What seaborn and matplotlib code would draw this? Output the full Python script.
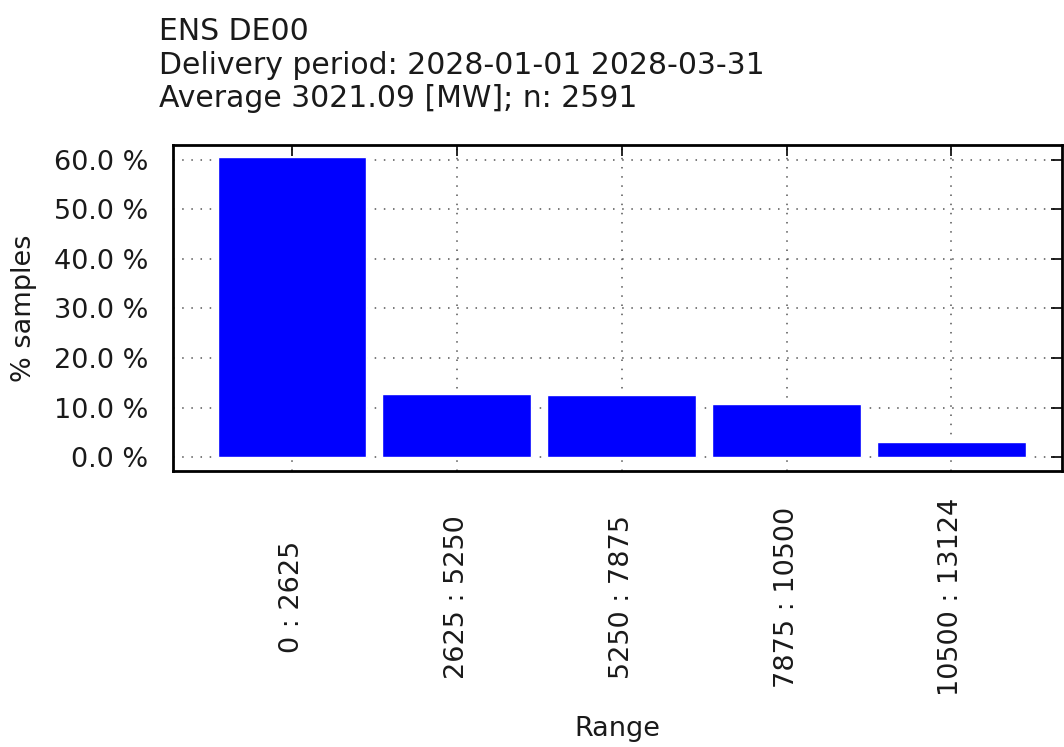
import matplotlib
matplotlib.use('Agg')
import matplotlib.pyplot as plt
import seaborn as sns
import pandas as pd

# Data
ranges = ['0 : 2625', '2625 : 5250', '5250 : 7875', '7875 : 10500', '10500 : 13124']
share = [60.6, 12.8, 12.6, 10.7, 3.0]

title_lines = ['ENS DE00',
               'Delivery period: 2028-01-01 2028-03-31',
               'Average 3021.09 [MW]; n: 2591']

df = pd.DataFrame({'range': ranges, 'share': share})

sns.set_style('white')
plt.rcParams['font.family'] = ['DejaVu Sans']
plt.rcParams['text.color'] = '#1a1a1a'
plt.rcParams['axes.labelcolor'] = '#1a1a1a'
plt.rcParams['xtick.color'] = '#1a1a1a'
plt.rcParams['ytick.color'] = '#1a1a1a'

fig = plt.figure(figsize=(10.64, 7.47), dpi=100)
ax = fig.add_axes([0.1626, 0.3695, 0.8355, 0.4364])

sns.barplot(data=df, x='range', y='share', color='#0000ff', saturation=1,
            width=0.9, ax=ax, zorder=3)

ax.set_xlim(-0.72, 4.67)
ax.set_ylim(-2.8, 63.0)
ax.set_yticks([0, 10, 20, 30, 40, 50, 60])
ax.set_yticklabels([f'{v:.1f} %' for v in [0, 10, 20, 30, 40, 50, 60]])

ax.grid(True, linestyle=(0, (1, 5)), color='#555555', linewidth=1.1, zorder=0)
for s in ax.spines.values():
    s.set_linewidth(2)
    s.set_color('black')

ax.tick_params(axis='both', direction='in', length=8, width=1.2,
               top=True, right=True, labelsize=19.5, colors='black',
               labelcolor='#1a1a1a')
ax.tick_params(axis='y', pad=18)
ax.tick_params(axis='x', pad=91)
for lbl in ax.get_xticklabels():
    lbl.set_rotation(90)
    lbl.set_va('center')
    lbl.set_ha('center')

ax.set_xlabel('Range', fontsize=19.5, labelpad=14)
ax.set_ylabel('% samples', fontsize=19.5, labelpad=12)

fig.text(0.149, 0.977, '\n'.join(title_lines), ha='left', va='top',
         fontsize=21.5, linespacing=1.2)

fig.savefig('out.png', dpi=100)
